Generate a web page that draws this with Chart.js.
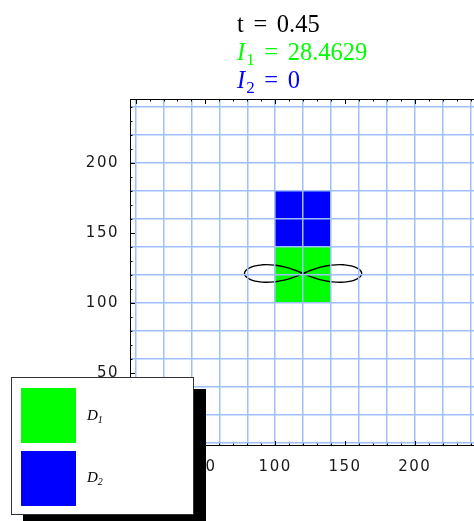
<!DOCTYPE html>
<html>
<head>
<meta charset="utf-8">
<script src="https://cdn.jsdelivr.net/npm/chart.js@4.4.1/dist/chart.umd.min.js"></script>
<style>
  html, body { margin: 0; padding: 0; background: #fff; overflow: hidden; }
  #wrap { position: relative; width: 474px; height: 521px; overflow: hidden; }
  #plot { position: absolute; left: 0; top: 0; }
  .readout {
    position: absolute; left: 237px; white-space: nowrap;
    font-family: 'Liberation Serif', 'Times New Roman', serif;
    font-size: 24.5px; line-height: 24px; word-spacing: 3.5px;
  }
  .readout i { margin-right: 1px; }
  .readout sub { font-size: 17px; vertical-align: -5px; line-height: 0; }
  #legend {
    position: absolute; left: 11px; top: 377px; width: 183px; height: 138px;
    box-sizing: border-box; background: #fff; border: 1px solid #333;
    box-shadow: 12px 12px 0 #000;
  }
  .swatch { position: absolute; left: 9px; width: 55px; height: 55px; }
  .key {
    position: absolute; left: 75px; white-space: nowrap;
    font-family: 'Liberation Serif', 'Times New Roman', serif;
    font-style: italic; font-size: 15px; line-height: 15px;
  }
  .key sub { font-size: 10px; vertical-align: -3px; line-height: 0; }
</style>
</head>
<body>
<div id="wrap">
  <canvas id="plot" width="482" height="521"></canvas>
  <div id="readouts"></div>
  <div id="legend"></div>
</div>
<script>
// state shown above the plot
const timeValue = 0.45;
const integralSubs = ['1', '2'];
const integralValues = [28.4629, 0];
const integralColors = ['#00ff00', '#0000ff'];

// rectangular regions
const regionNames = ['D1', 'D2'];
const regionColors = ['#00ff00', '#0000ff'];
const regionX = [[100, 140], [100, 140]];
const regionY = [[100, 140], [140, 180]];

// figure-eight curve, traced from the crossing point
const curveX = [120, 114.4, 108.0, 100.2, 90.9, 82.0, 78, 82.0, 90.9, 100.2, 108.0, 114.4,
                120, 125.6, 132.0, 139.8, 149.1, 158.0, 162, 158.0, 149.1, 139.8, 132.0, 125.6, 120];
const curveY = [121, 118.7, 116.6, 115.1, 114.8, 116.8, 121, 125.2, 127.2, 126.9, 125.4, 123.3,
                121, 118.7, 116.6, 115.1, 114.8, 116.8, 121, 125.2, 127.2, 126.9, 125.4, 123.3, 121];

// axes
const gridLines = [0, 20, 40, 60, 80, 100, 120, 140, 160, 180, 200, 220, 240];
const labelTicks = [0, 50, 100, 150, 200];
const minorTicks = [0, 10, 20, 30, 40, 50, 60, 70, 80, 90, 100, 110, 120,
                    130, 140, 150, 160, 170, 180, 190, 200, 210, 220, 230, 240];

// text above the plot
const readouts = document.getElementById('readouts');
const lines = [
  { html: 't = ' + timeValue, color: '#000', top: 12 },
  ...integralValues.map((v, i) => ({
    html: '<i>I</i><sub>' + integralSubs[i] + '</sub> = ' + v,
    color: integralColors[i],
    top: 40 + i * 27.5
  }))
];
lines.forEach(l => {
  const d = document.createElement('div');
  d.className = 'readout';
  d.style.top = l.top + 'px';
  d.style.color = l.color;
  d.innerHTML = l.html;
  readouts.appendChild(d);
});

// legend box
const legend = document.getElementById('legend');
regionNames.forEach((name, i) => {
  const sw = document.createElement('div');
  sw.className = 'swatch';
  sw.style.top = (10 + i * 63) + 'px';
  sw.style.background = regionColors[i];
  legend.appendChild(sw);
  const key = document.createElement('div');
  key.className = 'key';
  key.style.top = (30 + i * 62) + 'px';
  key.innerHTML = name[0] + '<sub>' + name.slice(1) + '</sub>';
  legend.appendChild(key);
});

const regionSets = regionNames.map((name, i) => {
  const [x0, x1] = regionX[i];
  const [y0, y1] = regionY[i];
  return {
    label: name,
    data: [{ x: x0, y: y0 }, { x: x1, y: y0 }, { x: x1, y: y1 }, { x: x0, y: y1 }, { x: x0, y: y0 }],
    backgroundColor: regionColors[i],
    borderWidth: 0,
    fill: 'shape',
    pointRadius: 0,
    tension: 0,
    order: i + 1,
    xAxisID: 'x',
    yAxisID: 'y'
  };
});

// frame with inward ticks on every side
const frameTicks = {
  id: 'frameTicks',
  beforeDraw(chart) {
    chart.ctx.letterSpacing = '1.5px';
  },
  afterDraw(chart) {
    const { ctx, chartArea: a, scales } = chart;
    ctx.save();
    ctx.strokeStyle = '#000';
    ctx.lineWidth = 1;
    ctx.beginPath();
    minorTicks.forEach(v => {
      const len = labelTicks.includes(v) ? 5 : 2.5;
      const px = Math.round(scales.x.getPixelForValue(v)) + 0.5;
      const py = Math.round(scales.y.getPixelForValue(v)) + 0.5;
      ctx.moveTo(px, a.bottom); ctx.lineTo(px, a.bottom - len);
      ctx.moveTo(px, a.top); ctx.lineTo(px, a.top + len);
      ctx.moveTo(a.left, py); ctx.lineTo(a.left + len, py);
      ctx.moveTo(a.right, py); ctx.lineTo(a.right - len, py);
    });
    ctx.stroke();
    ctx.strokeRect(a.left + 0.5, a.top + 0.5, a.right - a.left - 1, a.bottom - a.top - 1);
    ctx.restore();
  }
};

const gridColor = 'rgb(158, 192, 250)';
const tickFont = { family: "'DejaVu Sans', sans-serif", size: 15 };
const xRange = { min: -4, max: 246 };
const yRange = { min: -2.3, max: 245.7 };

new Chart(document.getElementById('plot'), {
  type: 'line',
  data: {
    datasets: [
      {
        label: 'curve',
        data: curveX.map((x, i) => ({ x, y: curveY[i] })),
        borderColor: '#000',
        borderWidth: 1.4,
        fill: false,
        pointRadius: 0,
        tension: 0.4,
        order: 0,
        xAxisID: 'x',
        yAxisID: 'y'
      },
      ...regionSets
    ]
  },
  options: {
    responsive: false,
    animation: false,
    events: [],
    layout: { padding: { left: 0, top: 99, right: 3, bottom: 0 } },
    plugins: {
      legend: { display: false },
      tooltip: { enabled: false }
    },
    scales: {
      x: {
        type: 'linear', position: 'bottom', ...xRange,
        afterBuildTicks: s => { s.ticks = gridLines.map(value => ({ value })); },
        afterFit: s => { s.height = 0; },
        ticks: { display: false },
        grid: { color: gridColor, lineWidth: 1.5, drawTicks: false, z: 1 },
        border: { display: false }
      },
      y: {
        type: 'linear', position: 'left', ...yRange,
        afterBuildTicks: s => { s.ticks = gridLines.map(value => ({ value })); },
        afterFit: s => { s.width = 0; },
        ticks: { display: false },
        grid: { color: gridColor, lineWidth: 1.5, drawTicks: false, z: 1 },
        border: { display: false }
      },
      xLab: {
        type: 'linear', position: 'bottom', ...xRange,
        afterBuildTicks: s => { s.ticks = labelTicks.map(value => ({ value })); },
        afterFit: s => { s.height = 75; },
        ticks: { color: '#1a1a1a', font: tickFont, padding: 4, maxRotation: 0, autoSkip: false, callback: v => String(v) },
        grid: { display: false },
        border: { display: false }
      },
      yLab: {
        type: 'linear', position: 'left', ...yRange,
        afterBuildTicks: s => { s.ticks = labelTicks.map(value => ({ value })); },
        afterFit: s => { s.width = 130; },
        ticks: { color: '#1a1a1a', font: tickFont, padding: 3, autoSkip: false, callback: v => String(v) },
        grid: { display: false },
        border: { display: false }
      }
    }
  },
  plugins: [frameTicks]
});
</script>
</body>
</html>
